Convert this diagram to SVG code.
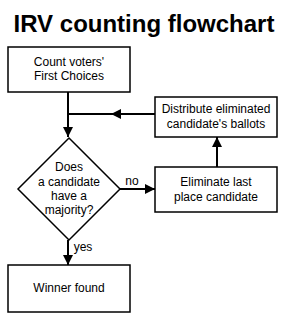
<svg xmlns="http://www.w3.org/2000/svg" width="286" height="320" viewBox="0 0 286 320">
<defs>
<marker id="ah" viewBox="0 0 10 10" refX="10" refY="5" markerWidth="5" markerHeight="5" markerUnits="strokeWidth" orient="auto">
<path d="M0,0 L10,5 L0,10 Z" fill="#000"/>
</marker>
</defs>
<style>
.box{fill:#fff;stroke:#000;stroke-width:1.5}
.t{font-family:"Liberation Sans",Arial,sans-serif;font-size:12px;fill:#000;text-anchor:middle}
.c{fill:none;stroke:#000;stroke-width:2}
</style>
<rect width="286" height="320" fill="#fff"/>
<text x="144" y="32" font-family="Liberation Sans,Arial,sans-serif" font-size="24" font-weight="bold" text-anchor="middle">IRV counting flowchart</text>
<g id="connectors">
<path class="c" d="M68,92 V137" marker-end="url(#ah)"/>
<path class="c" d="M155,114 H111" marker-end="url(#ah)"/>
<path class="c" d="M114,114 H68"/>
<path class="c" d="M120,189 H155" marker-end="url(#ah)"/>
<path class="c" d="M217,167 V137" marker-end="url(#ah)"/>
<path class="c" d="M68,240 V265" marker-end="url(#ah)"/>
<text class="t" x="132" y="185">no</text>
<text class="t" x="83" y="251">yes</text>
</g>
<g id="count">
<rect class="box" x="8" y="47" width="122" height="45"/>
<text class="t" x="69" y="66">Count voters'</text>
<text class="t" x="69" y="80">First Choices</text>
</g>
<g id="distribute">
<rect class="box" x="155" y="97" width="122" height="40"/>
<text class="t" x="216" y="113">Distribute eliminated</text>
<text class="t" x="216" y="128">candidate's ballots</text>
</g>
<g id="decision">
<polygon class="box" points="69,138 120,189 69,240 18,189"/>
<text class="t" x="69" y="171">Does</text>
<text class="t" x="69" y="186">a candidate</text>
<text class="t" x="69" y="200">have a</text>
<text class="t" x="69" y="214">majority?</text>
</g>
<g id="eliminate">
<rect class="box" x="155" y="167" width="122" height="45"/>
<text class="t" x="216" y="186">Eliminate last</text>
<text class="t" x="216" y="201">place candidate</text>
</g>
<g id="winner">
<rect class="box" x="8" y="265" width="122" height="47"/>
<text class="t" x="69" y="292">Winner found</text>
</g>
</svg>
